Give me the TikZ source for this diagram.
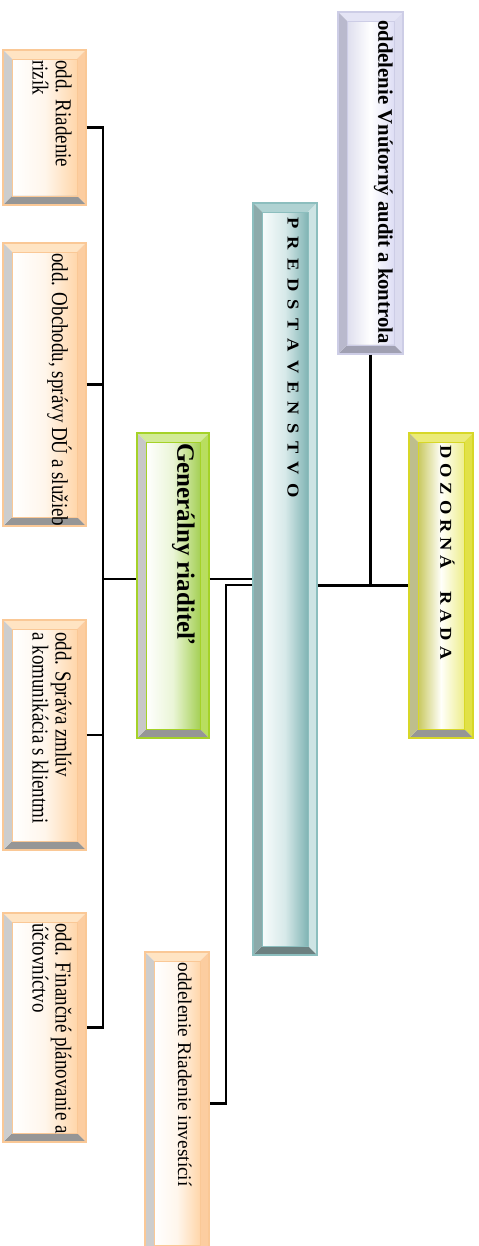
\documentclass[tikz,border=0pt]{standalone}
\usepackage{fontspec}
\setmainfont{Liberation Serif}
\usetikzlibrary{fit}

% box colours
\definecolor{orEdge}{RGB}{250,200,150}
\definecolor{orTop}{RGB}{255,228,195}
\definecolor{orRight}{RGB}{252,205,160}
\definecolor{orLeft}{RGB}{205,205,205}
\definecolor{orBot}{RGB}{150,150,150}
\definecolor{orFaceL}{RGB}{255,255,255}
\definecolor{orFaceM}{RGB}{255,246,236}
\definecolor{orFaceR}{RGB}{255,214,170}

\definecolor{grEdge}{RGB}{165,210,40}
\definecolor{grTop}{RGB}{210,235,150}
\definecolor{grRight}{RGB}{185,222,95}
\definecolor{grLeft}{RGB}{200,200,200}
\definecolor{grBot}{RGB}{150,150,150}
\definecolor{grFaceL}{RGB}{255,255,255}
\definecolor{grFaceM}{RGB}{234,245,214}
\definecolor{grFaceR}{RGB}{165,208,85}

\definecolor{teEdge}{RGB}{140,190,190}
\definecolor{teTop}{RGB}{175,210,210}
\definecolor{teRight}{RGB}{205,228,228}
\definecolor{teLeft}{RGB}{140,170,170}
\definecolor{teBot}{RGB}{108,128,128}
\definecolor{teFaceL}{RGB}{248,252,252}
\definecolor{teFaceM}{RGB}{215,233,233}
\definecolor{teFaceR}{RGB}{128,180,180}

\definecolor{yeEdge}{RGB}{215,215,40}
\definecolor{yeTop}{RGB}{235,235,120}
\definecolor{yeRight}{RGB}{225,225,70}
\definecolor{yeLeft}{RGB}{190,190,140}
\definecolor{yeBot}{RGB}{150,150,150}
\definecolor{yeFaceL}{RGB}{200,200,95}
\definecolor{yeFaceM}{RGB}{255,255,250}
\definecolor{yeFaceR}{RGB}{238,238,140}

\definecolor{laEdge}{RGB}{205,205,230}
\definecolor{laTop}{RGB}{228,228,245}
\definecolor{laRight}{RGB}{220,220,240}
\definecolor{laLeft}{RGB}{185,185,205}
\definecolor{laBot}{RGB}{160,160,178}
\definecolor{laFaceL}{RGB}{222,222,238}
\definecolor{laFaceM}{RGB}{255,255,255}
\definecolor{laFaceR}{RGB}{222,222,245}

\newcommand{\spacedcaps}[2]{\foreach \c in {#2}{\c\hspace{#1}}}

\tikzset{
  bevelbox/.style={draw=#1Edge, line width=0.6pt, inner sep=0pt,
    path picture={
      \coordinate (p1) at (path picture bounding box.north west);
      \coordinate (p2) at (path picture bounding box.north east);
      \coordinate (p3) at (path picture bounding box.south east);
      \coordinate (p4) at (path picture bounding box.south west);
      \coordinate (q1) at ([shift={(9,9)}]p1);
      \coordinate (q2) at ([shift={(-9,9)}]p2);
      \coordinate (q3) at ([shift={(-9,-9)}]p3);
      \coordinate (q4) at ([shift={(9,-9)}]p4);
      \shade[left color=#1FaceL, right color=#1FaceR, middle color=#1FaceM] (q1) rectangle (q3);
      \fill[#1Top] (p1) -- (p2) -- (q2) -- (q1) -- cycle;
      \fill[#1Right] (p2) -- (p3) -- (q3) -- (q2) -- cycle;
      \fill[#1Bot] (p3) -- (p4) -- (q4) -- (q3) -- cycle;
      \fill[#1Left] (p4) -- (p1) -- (q1) -- (q4) -- cycle;
      \draw[#1Edge, line width=0.4pt] (q1) rectangle (q3);
    }},
  boxtext/.style={rotate=-90, anchor=north west, inner sep=0pt, align=left,
    font=\fontsize{11}{13}\selectfont},
  tall/.style={yscale=1.2, font=\fontsize{10.8}{11}\selectfont},
  spaced/.style={yscale=0.9, font=\fontsize{10.5}{10}\selectfont\bfseries},
  link/.style={line width=1.7pt, black}
}

\begin{document}
\begin{tikzpicture}[x=0.02cm, y=-0.02cm]
  \useasboundingbox (0,0) rectangle (479,1246);
  \clip (0,0) rectangle (479,1246);

  % departments on the left
  \node[bevelbox=or, fit={(3,50) (86,205)}] (rizik) {};
  \node[bevelbox=or, fit={(3,243) (86,526)}] (obchod) {};
  \node[bevelbox=or, fit={(3,620) (86,850)}] (zmluvy) {};
  \node[bevelbox=or, fit={(3,913) (86,1142)}] (financie) {};
  \node[boxtext, tall] (rizik-t) at (72,60) {odd. Riadenie\\rizík};
  \node[boxtext, tall] (obchod-t) at (72,253) {odd. Obchodu, správy DÚ a služieb};
  \node[boxtext, tall] (zmluvy-t) at (72,632) {odd. Správa zmlúv\\a komunikácia s klientmi};
  \node[boxtext, tall] (financie-t) at (72,923) {odd. Finančné plánovanie a\\účtovníctvo};

  % management
  \node[bevelbox=gr, fit={(137,433) (209,738)}] (gr) {};
  \node[boxtext, font=\fontsize{14.2}{16}\selectfont\bfseries] (gr-t) at (195,443) {Generálny riaditeľ};
  \node[bevelbox=te, fit={(253,203) (317,955)}] (pred) {};
  \node[boxtext, spaced] (pred-t) at (299,217)
    {\spacedcaps{4.6pt}{P,R,E,D,S,T,A,V,E,N,S,T,V,O}};
  \node[bevelbox=la, fit={(338,12) (403,354)}] (audit) {};
  \node[boxtext, font=\fontsize{11.8}{13}\selectfont\bfseries] (audit-t) at (393,20) {oddelenie Vnútorný audit a kontrola};
  \node[bevelbox=ye, fit={(409,433) (473,738)}] (dozor) {};
  \node[boxtext, spaced] (dozor-t) at (455,445)
    {\spacedcaps{2.8pt}{D,O,Z,O,R,N,Á,\hspace{7pt},R,A,D,A}};
  \node[bevelbox=or, fit={(145,952) (209,1254)}] (invest) {};
  \node[boxtext] (invest-t) at (192,962) {oddelenie Riadenie investícií};

  % connectors
  \coordinate (bus) at (103,0);
  \coordinate (drop) at (226,0);
  \draw[link] (rizik.east) -| (bus |- financie.east) -- (financie.east);
  \draw[link] (obchod.east) -- (bus |- obchod.east);
  \draw[link] (zmluvy.east) -- (bus |- zmluvy.east);
  \draw[link] (bus |- pred.west) -- (gr.west |- pred.west);
  \draw[link] (gr.east |- pred.west) -- (pred.west);
  \draw[link] ([shift={(0,6)}]pred.west) -| (drop |- invest.east) -- (invest.east);
  \draw[link] (pred.east |- dozor.west) -- (dozor.west);
  \draw[link] (audit.south) -- (audit.south |- dozor.west);
\end{tikzpicture}
\end{document}
